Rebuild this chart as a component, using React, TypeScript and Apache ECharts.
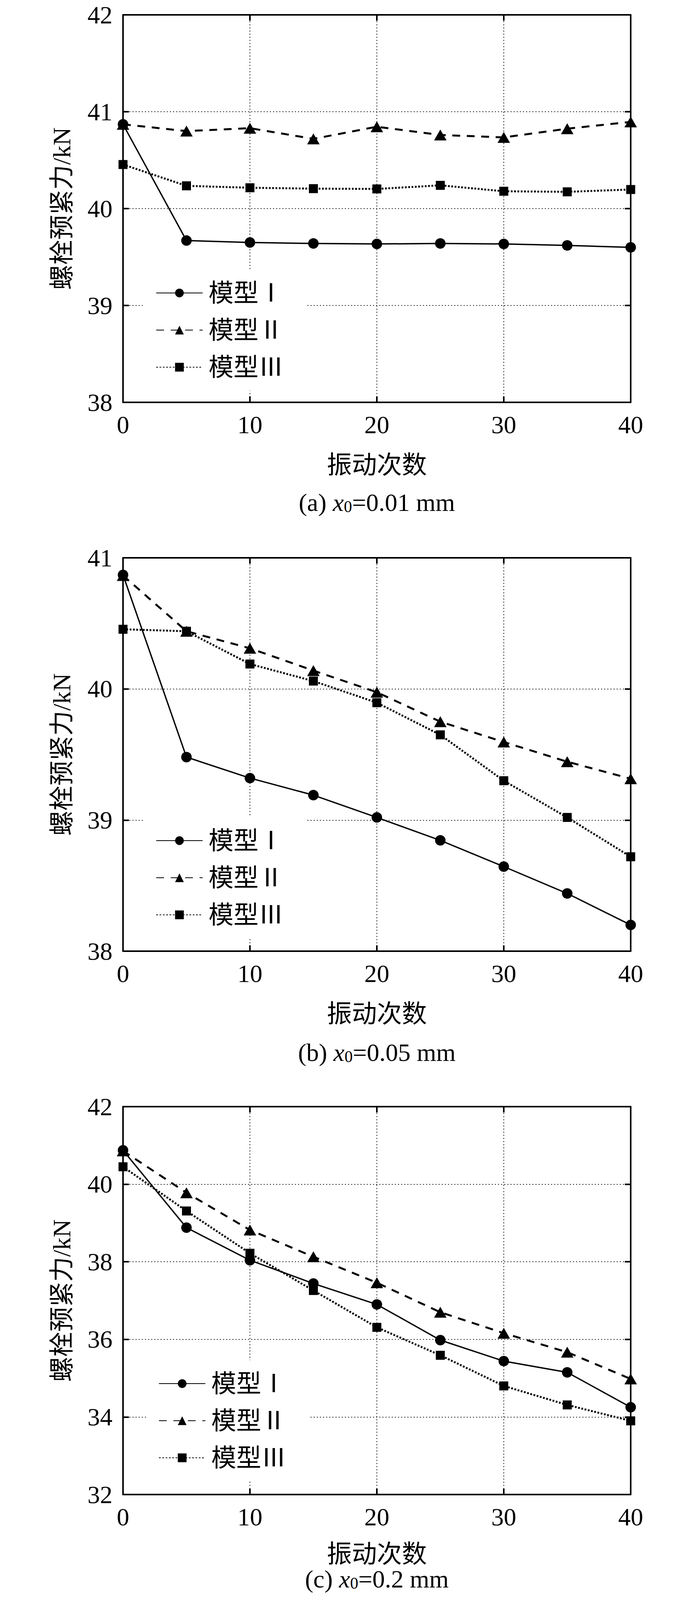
import React, { useEffect, useRef } from 'react';
import * as echarts from 'echarts';

// ---- data ----
const cycles = [0, 5, 10, 15, 20, 25, 30, 35, 40];
const seriesNames = ['模型Ⅰ', '模型Ⅱ', '模型Ⅲ'];
const xAxisName = '振动次数';
const yAxisName = '螺栓预紧力/kN';

// (a) x0 = 0.01 mm
const modelI_a = [40.87, 39.67, 39.65, 39.64, 39.635, 39.64, 39.635, 39.62, 39.6];
const modelII_a = [40.87, 40.8, 40.83, 40.72, 40.845, 40.76, 40.735, 40.825, 40.895];
const modelIII_a = [40.455, 40.235, 40.215, 40.206, 40.203, 40.24, 40.179, 40.173, 40.197];

// (b) x0 = 0.05 mm
const modelI_b = [40.87, 39.48, 39.32, 39.19, 39.02, 38.845, 38.645, 38.44, 38.2];
const modelII_b = [40.865, 40.44, 40.31, 40.14, 39.975, 39.75, 39.595, 39.445, 39.315];
const modelIII_b = [40.455, 40.44, 40.19, 40.06, 39.895, 39.65, 39.3, 39.02, 38.72];

// (c) x0 = 0.2 mm
const modelI_c = [40.875, 38.88, 38.04, 37.44, 36.9, 35.98, 35.44, 35.15, 34.25];
const modelII_c = [40.86, 39.78, 38.82, 38.13, 37.46, 36.7, 36.16, 35.67, 34.98];
const modelIII_c = [40.45, 39.31, 38.22, 37.26, 36.31, 35.59, 34.8, 34.31, 33.9];

const captionLetters = ['(a) ', '(b) ', '(c) '];
const captionValues = ['=0.01 mm', '=0.05 mm', '=0.2 mm'];

const yRanges = [
  { min: 38, max: 42, interval: 1 },
  { min: 38, max: 41, interval: 1 },
  { min: 32, max: 42, interval: 2 },
];
const panelData = [
  [modelI_a, modelII_a, modelIII_a],
  [modelI_b, modelII_b, modelIII_b],
  [modelI_c, modelII_c, modelIII_c],
];

// ---- layout ----
const FONT = "'Liberation Serif', 'Times New Roman', 'Noto Sans CJK SC', serif";
const FS = 64;
const layout = [
  { top: 38, height: 992, legendLeft: 369, legendTop: 690, captionY: 1286, nameGap: 128 },
  { top: 1428, height: 1007, legendLeft: 369, legendTop: 2092, captionY: 2694, nameGap: 128 },
  { top: 2833, height: 993, legendLeft: 376, legendTop: 3482, captionY: 4042, nameGap: 120 },
];
const GRID_LEFT = 315;
const GRID_WIDTH = 1300;

const seriesStyles = [
  { symbol: 'circle', symbolSize: 27, lineStyle: { width: 3.5, type: 'solid' } },
  { symbol: 'triangle', symbolSize: [32, 28], lineStyle: { width: 5, type: [20, 17] } },
  { symbol: 'rect', symbolSize: 23, lineStyle: { width: 5, type: [4.5, 4] } },
];

function buildOption() {
  const grid: any[] = [];
  const xAxis: any[] = [];
  const yAxis: any[] = [];
  const series: any[] = [];
  const legend: any[] = [];
  const graphic: any[] = [];

  const axisLine = { show: true, onZero: false, lineStyle: { color: '#000', width: 4 } };
  const axisTick = { show: true, inside: true, length: 15, lineStyle: { color: '#000', width: 4 } };
  const splitLine = { show: true, lineStyle: { color: '#333', width: 2, type: [3, 5] } };

  layout.forEach((L, i) => {
    grid.push({ left: GRID_LEFT, top: L.top, width: GRID_WIDTH, height: L.height, show: false });
    xAxis.push({
      type: 'value', gridIndex: i, position: 'bottom', min: 0, max: 40, interval: 10,
      axisLine, axisTick, splitLine,
      axisLabel: { show: true, margin: 25, fontSize: FS, fontFamily: FONT, color: '#000' },
      name: xAxisName, nameLocation: 'middle', nameGap: L.nameGap,
      nameTextStyle: { fontSize: FS, fontFamily: FONT, color: '#000' },
    });
    xAxis.push({
      type: 'value', gridIndex: i, position: 'top', min: 0, max: 40, interval: 10,
      axisLine, axisTick, splitLine: { show: false }, axisLabel: { show: false },
    });
    const yr = yRanges[i];
    yAxis.push({
      type: 'value', gridIndex: i, position: 'left', min: yr.min, max: yr.max, interval: yr.interval,
      axisLine, axisTick, splitLine,
      axisLabel: { show: true, margin: 27, fontSize: FS, fontFamily: FONT, color: '#000' },
      name: yAxisName, nameLocation: 'middle', nameGap: 125, nameRotate: 90,
      nameTextStyle: { fontSize: FS, fontFamily: FONT, color: '#000' },
    });
    yAxis.push({
      type: 'value', gridIndex: i, position: 'right', min: yr.min, max: yr.max, interval: yr.interval,
      axisLine, axisTick, splitLine: { show: false }, axisLabel: { show: false },
    });

    panelData[i].forEach((vals, j) => {
      const st = seriesStyles[j];
      series.push({
        type: 'line',
        name: seriesNames[j],
        xAxisIndex: 2 * i,
        yAxisIndex: 2 * i,
        data: cycles.map((c, k) => [c, vals[k]]),
        symbol: st.symbol,
        symbolSize: st.symbolSize,
        showAllSymbol: true,
        clip: false,
        lineStyle: { color: '#000', ...st.lineStyle },
        itemStyle: { color: '#000' },
        emphasis: { disabled: true },
        z: 3,
      });
    });

    legend.push({
      data: seriesNames,
      orient: 'vertical',
      left: L.legendLeft,
      top: L.legendTop,
      itemWidth: 119,
      itemHeight: 28,
      itemGap: 31,
      backgroundColor: '#fff',
      padding: [28, 60, 28, 30],
      selectedMode: false,
      textStyle: { fontSize: FS, fontFamily: FONT, color: '#000', lineHeight: 64, padding: [0, 0, 0, 10] },
      z: 4,
    });

    graphic.push({
      type: 'text',
      x: GRID_LEFT + GRID_WIDTH / 2,
      y: L.captionY,
      style: {
        text: captionLetters[i] + '{i|x}{s|0}' + captionValues[i],
        align: 'center',
        verticalAlign: 'middle',
        fontSize: FS,
        fontFamily: FONT,
        fill: '#000',
        lineHeight: 64,
        rich: {
          i: { fontStyle: 'italic', fontSize: FS, fontFamily: FONT, lineHeight: 64 },
          s: { fontSize: 42, fontFamily: FONT, lineHeight: 30, verticalAlign: 'bottom' },
        },
      },
    });
  });

  return {
    animation: false,
    backgroundColor: '#fff',
    grid,
    xAxis,
    yAxis,
    series,
    legend,
    graphic,
  };
}

export default function App() {
  const ref = useRef<HTMLDivElement>(null);
  useEffect(() => {
    if (!ref.current) return;
    const chart = echarts.init(ref.current, null, { renderer: 'svg' });
    chart.setOption(buildOption() as any);
    return () => chart.dispose();
  }, []);
  return (
    <div
      ref={ref}
      style={{ position: 'absolute', left: 0, top: 0, width: 1772, height: 4138, background: '#fff' }}
    />
  );
}
